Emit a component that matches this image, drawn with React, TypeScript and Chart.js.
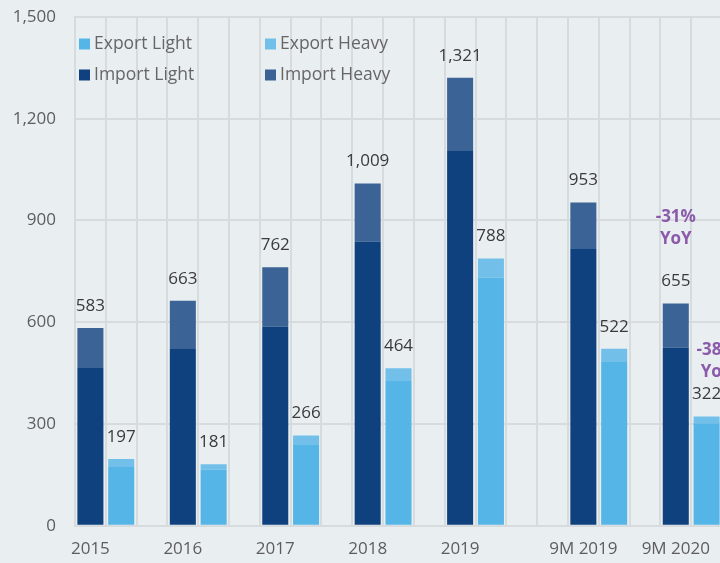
import React, { useEffect, useRef } from "react";
import { Chart, registerables } from "chart.js";

Chart.register(...registerables);

// ---- data ----
const categories = ["2015", "2016", "2017", "2018", "2019", "9M 2019", "9M 2020"];
const importLight = [467, 521, 587, 838, 1107, 816, 525];
const importHeavy = [116, 142, 175, 171, 214, 137, 130];
const exportLight = [175, 166, 240, 427, 732, 483, 302];
const exportHeavy = [22, 15, 26, 37, 56, 39, 20];
const yTicks = [0, 300, 600, 900, 1200, 1500];
const yoyLabels = [
  { category: "9M 2020", side: "import", text: ["-31%", "YoY"] },
  { category: "9M 2020", side: "export", text: ["-38%", "YoY"] },
];
const extraGapAfter = "2019";

const COLORS = {
  importLight: "#0f417e",
  importHeavy: "#3b6395",
  exportLight: "#55b5e6",
  exportHeavy: "#72c0ea",
  bg: "#e9eef1",
  grid: "#d8dbdd",
  tick: "#5d5d5d",
  label: "#3a3a3a",
  purple: "#8c5aab",
};
const FONT = "'Open Sans', sans-serif";

// slot layout: [import, export, gap] per category, plus extra gap after 2019
type Slot = { cat: string; kind: "import" | "export" | "gap"; idx: number };
const slots: Slot[] = [];
categories.forEach((c, i) => {
  slots.push({ cat: c, kind: "import", idx: i });
  slots.push({ cat: c, kind: "export", idx: i });
  if (i < categories.length - 1) slots.push({ cat: c, kind: "gap", idx: i });
  if (c === extraGapAfter) slots.push({ cat: c, kind: "gap", idx: i });
});

const slotData = (kind: "import" | "export", arr: number[]) =>
  slots.map((s) => (s.kind === kind ? arr[s.idx] : null));

const fmt = (v: number) => v.toLocaleString("en-US");

export default function App() {
  const ref = useRef<HTMLCanvasElement>(null);

  useEffect(() => {
    if (!ref.current) return;

    const overlay = {
      id: "overlay",
      afterDatasetsDraw(chart: any) {
        const ctx = chart.ctx;
        const xs = chart.scales.x;
        const ys = chart.scales.y;
        ctx.save();
        ctx.font = `17px ${FONT}`;
        ctx.fillStyle = COLORS.label;
        ctx.textAlign = "center";
        ctx.textBaseline = "middle";
        slots.forEach((s, si) => {
          if (s.kind === "gap") return;
          const total =
            s.kind === "import"
              ? importLight[s.idx] + importHeavy[s.idx]
              : exportLight[s.idx] + exportHeavy[s.idx];
          const x = xs.getPixelForValue(si);
          const y = ys.getPixelForValue(total) - 22;
          ctx.fillText(fmt(total), x, y);
        });

        // YoY annotations
        ctx.font = `bold 17px ${FONT}`;
        ctx.fillStyle = COLORS.purple;
        yoyLabels.forEach((a) => {
          const si = slots.findIndex((s) => s.cat === a.category && s.kind === a.side);
          const idx = categories.indexOf(a.category);
          const total =
            a.side === "import"
              ? importLight[idx] + importHeavy[idx]
              : exportLight[idx] + exportHeavy[idx];
          const x = xs.getPixelForValue(si) + (a.side === "export" ? 10 : 0);
          const base = ys.getPixelForValue(total) - 22;
          const top = a.side === "import" ? base - 64 : base - 44;
          ctx.fillText(a.text[0], x, top);
          ctx.fillText(a.text[1], x, top + 22);
        });

        // legend
        const items = [
          { t: "Export Light", c: COLORS.exportLight, x: 79, y: 44 },
          { t: "Export Heavy", c: COLORS.exportHeavy, x: 265, y: 44 },
          { t: "Import Light", c: COLORS.importLight, x: 79, y: 75 },
          { t: "Import Heavy", c: COLORS.importHeavy, x: 265, y: 75 },
        ];
        ctx.font = `17.5px ${FONT}`;
        ctx.textAlign = "left";
        items.forEach((it) => {
          ctx.fillStyle = it.c;
          ctx.fillRect(it.x, it.y - 5.5, 11, 11);
          ctx.fillStyle = "#666";
          ctx.fillText(it.t, it.x + 15, it.y);
        });
        ctx.restore();
      },
    };

    const chart = new Chart(ref.current, {
      type: "bar",
      data: {
        labels: slots.map((s) => (s.kind === "import" ? s.cat : "")),
        datasets: [
          { label: "Import Light", data: slotData("import", importLight), backgroundColor: COLORS.importLight },
          { label: "Import Heavy", data: slotData("import", importHeavy), backgroundColor: COLORS.importHeavy },
          { label: "Export Light", data: slotData("export", exportLight), backgroundColor: COLORS.exportLight },
          { label: "Export Heavy", data: slotData("export", exportHeavy), backgroundColor: COLORS.exportHeavy },
        ],
      },
      options: {
        animation: false,
        responsive: false,
        maintainAspectRatio: false,
        layout: { padding: { left: 0, right: 2, top: 17, bottom: 0 } },
        datasets: {
          bar: {
            barPercentage: 0.845,
            categoryPercentage: 1,
            borderWidth: 0,
          },
        },
        plugins: {
          legend: { display: false },
          tooltip: { enabled: false },
        },
        scales: {
          x: {
            stacked: true,
            offset: true,
            grid: { offset: true, color: COLORS.grid, lineWidth: 2, drawTicks: false },
            border: { color: COLORS.grid, width: 2 },
            ticks: {
              autoSkip: false,
              maxRotation: 0,
              padding: 13,
              color: COLORS.tick,
              font: { family: FONT, size: 17 },
            },
            afterFit(scale: any) {
              scale.height = 37.3;
              scale.paddingLeft = 0;
              scale.paddingRight = 0;
            },
          },
          y: {
            stacked: true,
            min: 0,
            max: 1500,
            afterBuildTicks(scale: any) {
              scale.ticks = yTicks.map((v) => ({ value: v }));
            },
            grid: { color: COLORS.grid, lineWidth: 2, drawTicks: false },
            border: { color: COLORS.grid, width: 2 },
            ticks: {
              padding: 19,
              color: COLORS.tick,
              font: { family: FONT, size: 17 },
              callback: (v: any) => fmt(Number(v)),
            },
            afterFit(scale: any) {
              scale.width = 75;
              scale.paddingTop = 0;
              scale.paddingBottom = 0;
            },
          },
        },
      },
      plugins: [overlay],
    });
    return () => chart.destroy();
  }, []);

  return (
    <div
      style={{
        position: "fixed",
        left: 0,
        top: 0,
        width: 724,
        height: 563,
        background: COLORS.bg,
        overflow: "hidden",
      }}
    >
      <canvas ref={ref} width={724} height={563} style={{ display: "block" }} />
    </div>
  );
}
